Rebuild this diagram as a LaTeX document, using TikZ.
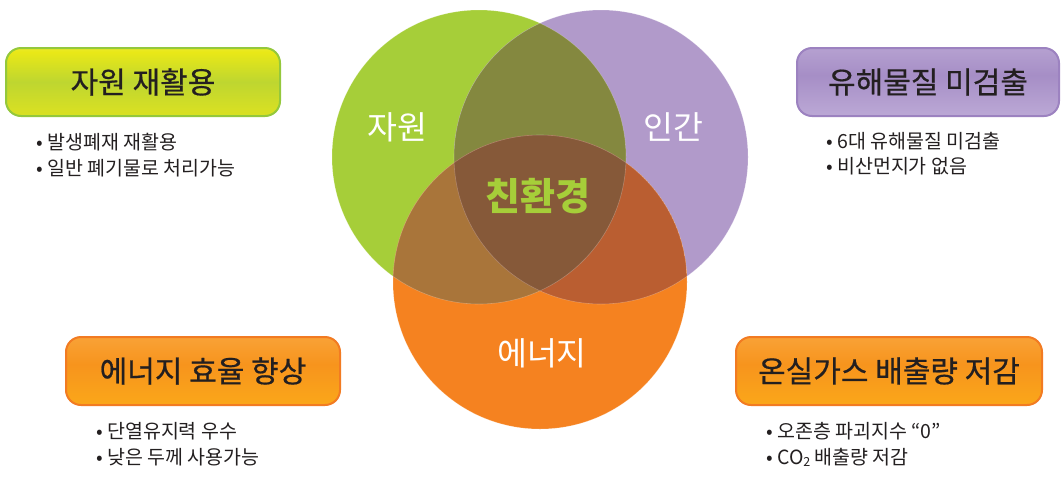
\documentclass[tikz,border=0pt]{standalone}
\usepackage{fontspec}
\newfontfamily\kr{Noto Sans CJK KR}
\newfontfamily\krm[FakeBold=0.6]{Noto Sans CJK KR}
\usetikzlibrary{shadings}
\definecolor{cG}{HTML}{A6CE39}
\definecolor{cP}{HTML}{B19ACA}
\definecolor{cO}{HTML}{F58220}
\definecolor{cGP}{HTML}{84883F}
\definecolor{cGO}{HTML}{A9753A}
\definecolor{cPO}{HTML}{BA5E31}
\definecolor{cC}{HTML}{865939}
\definecolor{txt}{HTML}{231F20}
\definecolor{g0}{HTML}{E6E61A}
\definecolor{g1}{HTML}{D6DF24}
\definecolor{g2}{HTML}{BED630}
\definecolor{g3}{HTML}{E9E817}
\definecolor{g4}{HTML}{F1EE6A}
\definecolor{g5}{HTML}{F7F5D0}
\definecolor{p0}{HTML}{CBBBDF}
\definecolor{p1}{HTML}{B8A4D3}
\definecolor{p2}{HTML}{A68EC6}
\definecolor{p3}{HTML}{B9A5D3}
\definecolor{p4}{HTML}{DCD0EA}
\definecolor{o0}{HTML}{FDB515}
\definecolor{o1}{HTML}{FAA41A}
\definecolor{o2}{HTML}{F7941D}
\definecolor{o3}{HTML}{F9A43A}
\definecolor{o4}{HTML}{FBC98A}
\definecolor{o5}{HTML}{FDE9D2}
\definecolor{gB}{HTML}{94C83C}
\definecolor{pB}{HTML}{9C82C0}
\definecolor{oB}{HTML}{F27B22}
\pgfdeclareverticalshading{greenshade}{100bp}{color(0bp)=(g0); color(30bp)=(g1); color(50bp)=(g2); color(72bp)=(g3); color(88bp)=(g4); color(100bp)=(g5)}
\pgfdeclareverticalshading{purpleshade}{100bp}{color(0bp)=(p0); color(30bp)=(p1); color(55bp)=(p2); color(80bp)=(p3); color(100bp)=(p4)}
\pgfdeclareverticalshading{orangeshade}{100bp}{color(0bp)=(o0); color(30bp)=(o1); color(55bp)=(o2); color(78bp)=(o3); color(92bp)=(o4); color(100bp)=(o5)}
\tikzset{
  titlebox/.style={rounded corners=15pt, line width=2pt, minimum height=68pt, inner sep=0pt, font=\krm\fontsize{30}{32}\selectfont, text=txt},
  gbox/.style={titlebox, draw=gB, shading=greenshade},
  pbox/.style={titlebox, draw=pB, shading=purpleshade},
  obox/.style={titlebox, draw=oB, shading=orangeshade},
  bullet/.style={anchor=west, inner sep=0pt, font=\kr\fontsize{19.5}{21}\selectfont, text=txt},
  vlabel/.style={font=\kr\fontsize{32.5}{34}\selectfont, text=white},
}
\begin{document}
\begin{tikzpicture}[x=1pt,y=-1pt]
\useasboundingbox (0,0) rectangle (1064,480);
% Venn
\coordinate (cg) at (479,157);
\coordinate (cp) at (601,157);
\coordinate (co) at (540,282);
\def\R{147}
\fill[cG] (cg) circle (\R);
\fill[cP] (cp) circle (\R);
\fill[cO] (co) circle (\R);
\begin{scope}
  \clip (cg) circle (\R);
  \fill[cGP] (cp) circle (\R);
  \fill[cGO] (co) circle (\R);
  \clip (cp) circle (\R);
  \fill[cC] (co) circle (\R);
\end{scope}
\begin{scope}
  \clip (cp) circle (\R);
  \clip (co) circle (\R);
  \fill[cPO] (co) circle (\R);
  \clip (cg) circle (\R);
  \fill[cC] (co) circle (\R);
\end{scope}
\draw[white, opacity=0.25, line width=0.6pt] (cg) circle (\R) (cp) circle (\R) (co) circle (\R);
\node[vlabel] (lg) at (397,127) {자원};
\node[vlabel] (lp) at (673,127) {인간};
\node[vlabel] (lo) at (542,353) {에너지};
\node[font=\kr\bfseries\fontsize{38}{40}\selectfont, text=cG] (lc) at (538,196) {친환경};
% boxes
\node[gbox, minimum width=274pt] (b1) at (143,82) {자원 재활용};
\node[pbox, minimum width=262pt] (b2) at (928,82) {유해물질 미검출};
\node[obox, minimum width=274pt] (b3) at (203,371) {에너지 효율 향상};
\node[obox, minimum width=306pt] (b4) at (889,371) {온실가스 배출량 저감};
% bullets
\node[bullet] (t11) at (36,142) {• 발생폐재 재활용};
\node[bullet] (t12) at (36,168) {• 일반 폐기물로 처리가능};
\node[bullet] (t21) at (826,141) {• 6대 유해물질 미검출};
\node[bullet] (t22) at (826,166) {• 비산먼지가 없음};
\node[bullet] (t31) at (96,431) {• 단열유지력 우수};
\node[bullet] (t32) at (96,457) {• 낮은 두께 사용가능};
\node[bullet] (t41) at (766,431) {• 오존층 파괴지수 “0”};
\node[bullet] (t42) at (766,457) {• CO{\fontsize{12.5}{13}\selectfont\raisebox{-2pt}{2}} 배출량 저감};
\end{tikzpicture}
\end{document}
